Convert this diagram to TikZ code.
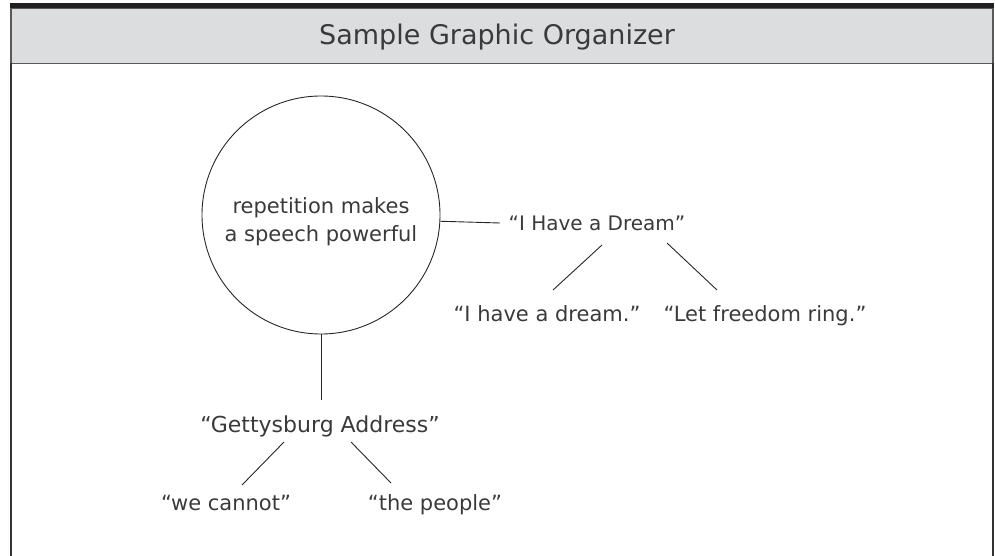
\documentclass[tikz,border=0pt]{standalone}
\usepackage{fontspec}
\setmainfont{DejaVu Sans}
\definecolor{darkbar}{HTML}{231F20}
\definecolor{titlegray}{HTML}{DCDDDE}
\definecolor{bordergray}{HTML}{58595B}
\definecolor{inkgray}{HTML}{3A3A3A}
\tikzset{
  lbl/.style={anchor=base, inner sep=0pt, font=\fontsize{21}{25}\selectfont, text=inkgray},
  conn/.style={draw=black!85, line width=0.9pt},
}
\begin{document}
\begin{tikzpicture}[x=1pt,y=-1pt]
\useasboundingbox (0,0) rectangle (995,556);
% frame
\fill[darkbar] (10,3) rectangle (994,8.5);
\filldraw[fill=titlegray, draw=bordergray, line width=1.6pt] (11,8.5) rectangle (993,63.5);
\draw[line width=1.6pt, black!80] (11,63.5) -- (11,557);
\draw[line width=1.6pt, black!80] (993,63.5) -- (993,557);
\node[anchor=base, inner sep=0pt, font=\fontsize{27}{32}\selectfont, text=inkgray] (title) at (497,45) {Sample Graphic Organizer};
% main circle
\node[circle, draw=black!85, line width=0.9pt, minimum size=238pt, inner sep=0pt] (c) at (321,215) {};
\node[lbl] (c1) at (321,213) {repetition makes};
\node[lbl] (c2) at (321,241.5) {a speech powerful};
% branches
\node[lbl, font=\fontsize{20}{24}\selectfont] (dream) at (597,230) {“I Have a Dream”};
\node[lbl] (d1) at (547,321) {“I have a dream.”};
\node[lbl] (d2) at (765,321) {“Let freedom ring.”};
\node[lbl, font=\fontsize{22}{26}\selectfont] (gett) at (320,432) {“Gettysburg Address”};
\node[lbl] (g1) at (226,510) {“we cannot”};
\node[lbl] (g2) at (435,510) {“the people”};
% connector end points
\coordinate (dw) at (500,223);
\coordinate (da1) at (602,245); \coordinate (db1) at (553,290);
\coordinate (da2) at (667,243); \coordinate (db2) at (717,290);
\coordinate (gn) at (321,400);
\coordinate (ga1) at (284,442); \coordinate (gb1) at (242,485);
\coordinate (ga2) at (351,442); \coordinate (gb2) at (391,483);
% connectors
\draw[conn] (c.-3.85) -- (dw);
\draw[conn] (da1) -- (db1);
\draw[conn] (da2) -- (db2);
\draw[conn] (c.south) -- (gn);
\draw[conn] (ga1) -- (gb1);
\draw[conn] (ga2) -- (gb2);
\end{tikzpicture}
\end{document}
